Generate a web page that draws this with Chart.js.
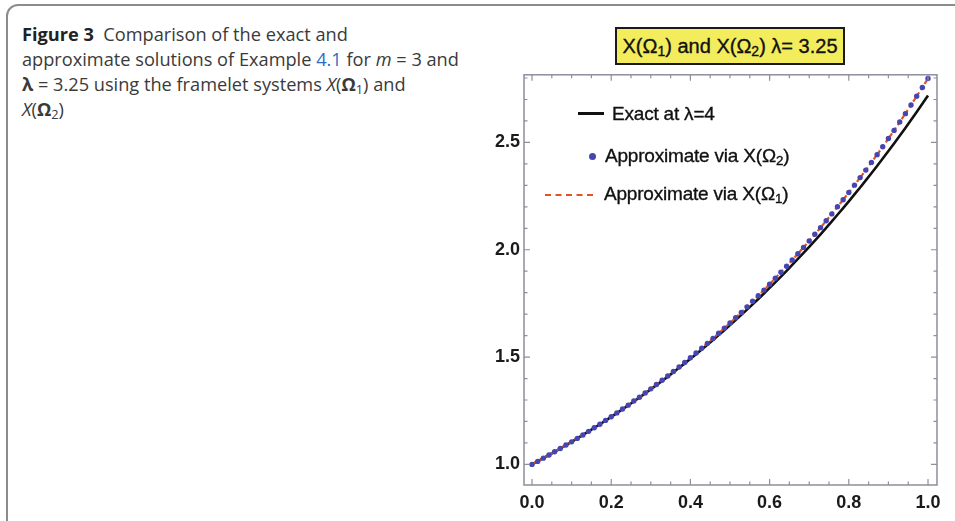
<!DOCTYPE html>
<html lang="en">
  <head>
    <meta charset="UTF-8" />
    <title>Figure 3</title>
    <script src="https://cdn.jsdelivr.net/npm/chart.js"></script>
    <style>
      body { margin: 0; width: 955px; height: 521px; overflow: hidden; background: #fff; position: relative; }
      .frame { position: absolute; left: 6px; top: 4px; width: 1000px; height: 530px; border: 2px solid #8c8c8c; border-radius: 12px; }
      .caption { position: absolute; left: 22px; top: 22px; font-family: "Open Sans", sans-serif; font-weight: 400; font-size: 18.2px; line-height: 25px; color: #3a3a3a; white-space: nowrap; }
      .caption b { font-weight: 700; color: #222; }
      .caption .lnk { color: #2b6cc4; }
      .caption .g { font-weight: 700; }
      .wrap { position: absolute; left: 470px; top: 60px; width: 485px; height: 461px; }
      .title { position: absolute; left: 615px; top: 27px; width: 226px; height: 34px; background: #f3ec5c; border: 2px solid #1a1a1a; font-family: "Liberation Sans", Arial, sans-serif; font-size: 20px; line-height: 34px; text-align: center; color: #111; -webkit-text-stroke: 0.35px #111; }
      .leg { position: absolute; font-family: "Liberation Sans", Arial, sans-serif; font-size: 19px; color: #111; white-space: nowrap; line-height: 20px; -webkit-text-stroke: 0.35px #111; letter-spacing: -0.2px; }
      sub { font-size: 70%; vertical-align: -3px; line-height: 0; }
      .mk { position: absolute; }
    </style>
  </head>
  <body>
    <div class="frame"></div>
    <div class="caption">
      <b>Figure 3</b>&nbsp; Comparison of the exact and<br />
      approximate solutions of Example <span class="lnk">4.1</span> for <i>m</i> = 3 and<br />
      <span class="g">λ</span> = 3.25 using the framelet systems <i>X</i>(<span class="g">Ω</span><sub>1</sub>) and<br />
      <i>X</i>(<span class="g">Ω</span><sub>2</sub>)
    </div>

    <div class="wrap"><canvas id="solChart"></canvas></div>

    <div class="title">X(Ω<sub>1</sub>) and X(Ω<sub>2</sub>) λ= 3.25</div>

    <!-- legend -->
    <div class="mk" style="left:578px; top:112px; width:26px; height:3px; background:#111"></div>
    <div class="leg" style="left:612px; top:104px">Exact at λ=4</div>
    <div class="mk" style="left:589px; top:153px; width:7px; height:7px; border-radius:50%; background:#4646b2"></div>
    <div class="leg" style="left:605px; top:146px">Approximate via X(Ω<sub>2</sub>)</div>
    <div class="mk" style="left:545px; top:194px; width:48px; height:0; border-top:2px dashed #e2541c"></div>
    <div class="leg" style="left:604px; top:184px">Approximate via X(Ω<sub>1</sub>)</div>

    <script>
      // x grid of the solution (step 1/70)
      const xs = [0, 0.0143, 0.0286, 0.0429, 0.0571, 0.0714, 0.0857, 0.1, 0.1143, 0.1286,
        0.1429, 0.1571, 0.1714, 0.1857, 0.2, 0.2143, 0.2286, 0.2429, 0.2571, 0.2714,
        0.2857, 0.3, 0.3143, 0.3286, 0.3429, 0.3571, 0.3714, 0.3857, 0.4, 0.4143,
        0.4286, 0.4429, 0.4571, 0.4714, 0.4857, 0.5, 0.5143, 0.5286, 0.5429, 0.5571,
        0.5714, 0.5857, 0.6, 0.6143, 0.6286, 0.6429, 0.6571, 0.6714, 0.6857, 0.7,
        0.7143, 0.7286, 0.7429, 0.7571, 0.7714, 0.7857, 0.8, 0.8143, 0.8286, 0.8429,
        0.8571, 0.8714, 0.8857, 0.9, 0.9143, 0.9286, 0.9429, 0.9571, 0.9714, 0.9857, 1];

      // exact solution
      const exact = [1.0, 1.0144, 1.029, 1.0438, 1.0588, 1.074, 1.0895, 1.1052, 1.1211, 1.1372,
        1.1536, 1.1702, 1.187, 1.2041, 1.2214, 1.239, 1.2568, 1.2749, 1.2932, 1.3118,
        1.3307, 1.3499, 1.3693, 1.389, 1.409, 1.4292, 1.4498, 1.4707, 1.4918, 1.5133,
        1.5351, 1.5572, 1.5796, 1.6023, 1.6253, 1.6487, 1.6724, 1.6965, 1.7209, 1.7457,
        1.7708, 1.7963, 1.8221, 1.8483, 1.8749, 1.9019, 1.9293, 1.957, 1.9852, 2.0138,
        2.0427, 2.0721, 2.1019, 2.1322, 2.1629, 2.194, 2.2255, 2.2576, 2.2901, 2.323,
        2.3564, 2.3903, 2.4247, 2.4596, 2.495, 2.5309, 2.5673, 2.6043, 2.6417, 2.6797, 2.7183];

      // approximate solution (both framelet systems lie on top of each other)
      const approx = [1.0, 1.014, 1.029, 1.044, 1.059, 1.074, 1.09, 1.105, 1.121, 1.137,
        1.154, 1.171, 1.187, 1.205, 1.222, 1.24, 1.258, 1.276, 1.295, 1.313,
        1.333, 1.352, 1.372, 1.392, 1.412, 1.433, 1.454, 1.475, 1.497, 1.519,
        1.541, 1.564, 1.587, 1.611, 1.635, 1.659, 1.683, 1.708, 1.734, 1.76,
        1.786, 1.812, 1.839, 1.867, 1.895, 1.923, 1.952, 1.981, 2.011, 2.041,
        2.072, 2.103, 2.135, 2.167, 2.2, 2.233, 2.267, 2.301, 2.336, 2.371,
        2.407, 2.443, 2.48, 2.518, 2.556, 2.595, 2.634, 2.674, 2.715, 2.756, 2.798];

      const xTicks = [0, 0.2, 0.4, 0.6, 0.8, 1.0];
      const yTicks = [1.0, 1.5, 2.0, 2.5];

      const pts = (ys) => xs.map((x, i) => ({ x: x, y: ys[i] }));

      // Mathematica-like frame with inward ticks on all four sides
      const framePlugin = {
        id: "frame",
        afterDraw(chart) {
          const { ctx, chartArea: a, scales } = chart;
          const sx = scales.x, sy = scales.y;
          ctx.save();
          ctx.strokeStyle = "#8e8e9c";
          ctx.lineWidth = 1.5;
          ctx.strokeRect(a.left, a.top, a.right - a.left, a.bottom - a.top);
          ctx.lineWidth = 1.2;
          ctx.beginPath();
          for (let i = 0; i <= 20; i++) {
            const v = i * 0.05;
            const px = sx.getPixelForValue(v);
            const len = i % 4 === 0 ? 6 : 3.5;
            ctx.moveTo(px, a.bottom); ctx.lineTo(px, a.bottom - len);
            ctx.moveTo(px, a.top); ctx.lineTo(px, a.top + len);
          }
          for (let i = 0; i <= 18; i++) {
            const v = 1.0 + i * 0.1;
            const py = sy.getPixelForValue(v);
            const len = i % 5 === 0 ? 6 : 3.5;
            ctx.moveTo(a.left, py); ctx.lineTo(a.left + len, py);
            ctx.moveTo(a.right, py); ctx.lineTo(a.right - len, py);
          }
          ctx.stroke();
          ctx.restore();
        },
      };

      const tickFont = { family: "Liberation Sans", size: 18, weight: "bold" };

      const ctx = document.getElementById("solChart").getContext("2d");
      new Chart(ctx, {
        type: "scatter",
        data: {
          datasets: [
            {
              label: "Approximate via X(Ω2)",
              data: pts(approx),
              pointRadius: 2.7,
              pointBackgroundColor: "#4646b2",
              pointBorderWidth: 0,
              showLine: false,
              order: 1,
            },
            {
              label: "Approximate via X(Ω1)",
              data: pts(approx),
              showLine: true,
              borderColor: "#e2541c",
              borderWidth: 2.2,
              borderDash: [4, 3],
              pointRadius: 0,
              order: 2,
            },
            {
              label: "Exact at λ=4",
              data: pts(exact),
              showLine: true,
              borderColor: "#111",
              borderWidth: 2.6,
              pointRadius: 0,
              order: 3,
            },
          ],
        },
        options: {
          responsive: true,
          maintainAspectRatio: false,
          animation: false,
          layout: { padding: { left: 0, top: 12, right: 18, bottom: 0 } },
          plugins: { legend: { display: false }, tooltip: { enabled: false } },
          scales: {
            x: {
              type: "linear",
              min: -0.0202,
              max: 1.0227,
              grid: { display: false, drawTicks: false },
              border: { display: false },
              afterBuildTicks: (s) => { s.ticks = xTicks.map((v) => ({ value: v })); },
              afterFit: (s) => { s.height = 36; },
              ticks: {
                padding: 7,
                color: "#1a1a1a",
                font: tickFont,
                callback: (v) => Number(v).toFixed(1),
              },
            },
            y: {
              type: "linear",
              min: 0.904,
              max: 2.815,
              grid: { display: false, drawTicks: false },
              border: { display: false },
              afterBuildTicks: (s) => { s.ticks = yTicks.map((v) => ({ value: v })); },
              afterFit: (s) => { s.width = 54; },
              ticks: {
                padding: 4,
                color: "#1a1a1a",
                font: tickFont,
                callback: (v) => Number(v).toFixed(1),
              },
            },
          },
        },
        plugins: [framePlugin],
      });
    </script>
  </body>
</html>
